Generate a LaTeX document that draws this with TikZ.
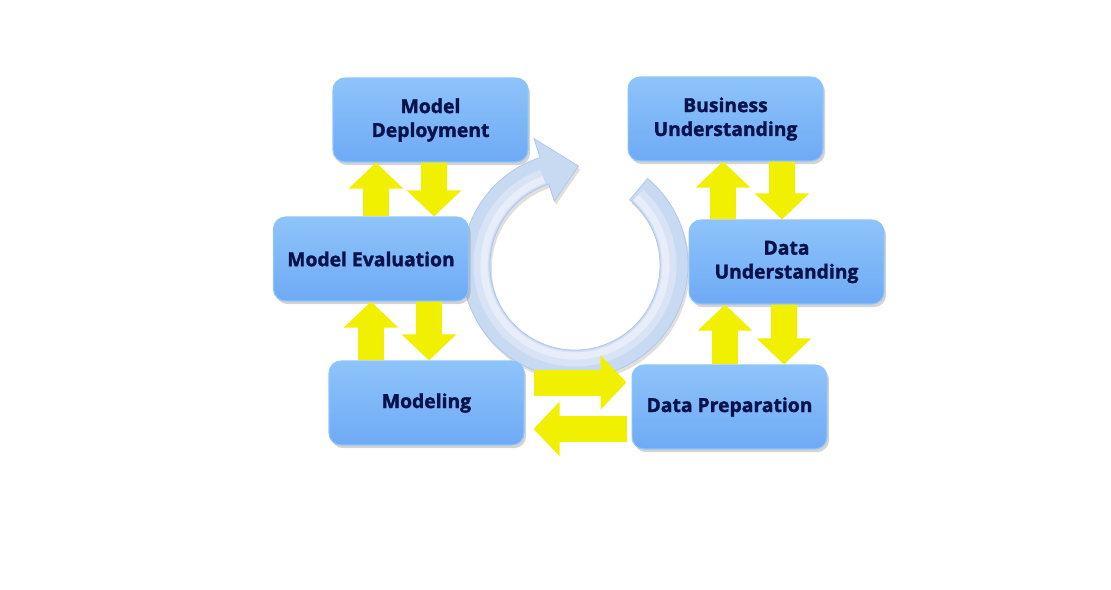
\documentclass[tikz,border=0pt]{standalone}
\usepackage{fontspec}
\setmainfont{Open Sans}[BoldFeatures={FakeBold=1.6}]
\usetikzlibrary{
    arrows.meta,
    calc,
    shadows,
    positioning
}
\definecolor{boxtop}{HTML}{8EC4FA}
\definecolor{boxmid}{HTML}{67A3F2}
\definecolor{boxbot}{HTML}{6EAAF5}
\definecolor{boxtext}{HTML}{08124A}
\definecolor{ringblue}{HTML}{C8D9F2}
\definecolor{ringedge}{HTML}{AFC5E6}
\definecolor{arrowyellow}{HTML}{F0F000}

\begin{document}
\begin{tikzpicture}[x=0.02cm, y=0.02cm,
    phase/.style={rectangle, rounded corners=0.24cm, minimum width=3.9cm, minimum height=1.68cm,
        inner sep=0pt, align=center, top color=boxtop, middle color=boxmid, bottom color=boxbot,
        draw=boxtop, line width=0.6pt, text=boxtext, font=\bfseries\fontsize{11}{13.6}\selectfont,
        drop shadow={opacity=0.35, shadow xshift=1.2pt, shadow yshift=-1.8pt}},
    yarrow/.style={draw=arrowyellow, line width=0.52cm, -{Triangle[width=1.06cm, length=0.52cm]}}]
    \useasboundingbox (0, 0) rectangle (1111, 589);
    \coordinate (c) at (575, 324);
    \fill[ringblue, draw=ringedge, line width=0.4pt, drop shadow={opacity=0.25, shadow xshift=1pt, shadow yshift=-2pt}]
        ($(c)+(50:113)$) arc[start angle=50, end angle=-252, radius=113]
        -- ($(c)+(-252:133)$) -- ($(c)+(-272:99)$) -- ($(c)+(-252:67)$) -- ($(c)+(-252:85)$)
        arc[start angle=-252, end angle=50, radius=85] -- cycle;
    \draw[white, opacity=0.3, line width=0.3cm] ($(c)+(48:94)$) arc[start angle=48, end angle=-250, radius=94];
    \draw[white, opacity=0.4, line width=0.14cm] ($(c)+(48:91)$) arc[start angle=48, end angle=-250, radius=91];
    \node[phase] (biz) at (725.5, 470) {Business\\Understanding};
    \node[phase] (dat) at (786.5, 327) {Data\\Understanding};
    \node[phase] (prep) at (729.5, 182) {Data Preparation};
    \node[phase] (mod) at (426.5, 186) {Modeling};
    \node[phase] (eval) at (371, 330) {Model Evaluation};
    \node[phase] (dep) at (430.5, 469) {Model\\Deployment};
    \foreach \a/\da/\b/\db in {eval/5/dep/-54.5, mod/-55.5/eval/0, dat/-63.5/biz/-2.5, prep/-4.5/dat/-61.5} {
        \draw[yarrow] ($(\a.north)+(\da, 0)$) -- ($(\b.south)+(\db, 0)$);
    }
    \foreach \a/\da/\b/\db in {dep/3.5/eval/63, eval/58/mod/2.5, biz/56.5/dat/-4.5, dat/-2.5/prep/54.5} {
        \draw[yarrow] ($(\a.south)+(\da, 0)$) -- ($(\b.north)+(\db, 0)$);
    }
    \draw[yarrow] ($(mod.east)+(9, 20.5)$) -- ($(prep.west)+(-5, 24.5)$);
    \draw[yarrow] ($(prep.west)+(-5, -22)$) -- ($(mod.east)+(9, -26)$);
\end{tikzpicture}
\end{document}
